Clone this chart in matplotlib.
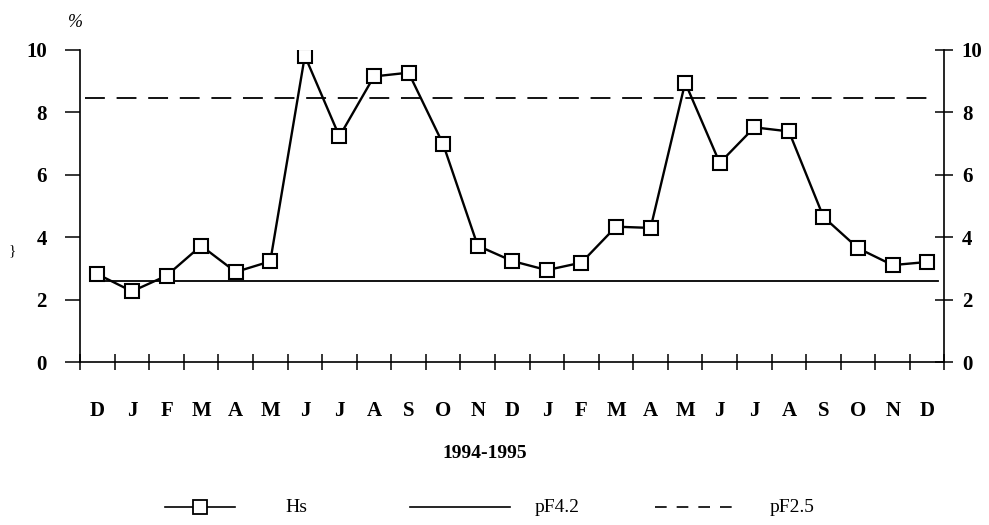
import numpy as np
import matplotlib
matplotlib.use("Agg")
import matplotlib.pyplot as plt
from matplotlib.lines import Line2D

plt.rcParams['font.family'] = ['Liberation Serif', 'DejaVu Serif']

# data
months = ["D", "J", "F", "M", "A", "M", "J", "J", "A", "S", "O", "N",
          "D", "J", "F", "M", "A", "M", "J", "J", "A", "S", "O", "N", "D"]
hs = [2.82, 2.27, 2.77, 3.73, 2.89, 3.23, 9.81, 7.23, 9.15, 9.27, 6.98, 3.73,
      3.24, 2.95, 3.19, 4.34, 4.30, 8.95, 6.38, 7.52, 7.39, 4.65, 3.65, 3.11, 3.21]
pf42 = 2.6
pf25 = 8.45
yticks = [0, 2, 4, 6, 8, 10]

x = np.arange(len(months))

fig = plt.figure(figsize=(9.89, 5.25), dpi=100)
ax = fig.add_axes([0.081, 0.31, 0.874, 0.595])

ax.plot(x, hs, color="black", lw=1.7, marker="s", ms=10,
        mfc="white", mec="black", mew=1.5, zorder=3)
ax.plot([x[0] - 0.2, x[-1] + 0.3], [pf42, pf42], color="black", lw=1.3)
ax.plot([x[0] - 0.35, x[-1] + 0.3], [pf25, pf25], color="black", lw=1.3,
        dashes=(11, 6.5))

ax.set_xlim(-0.5, len(months) - 0.5)
ax.set_ylim(0, 10)
for s in ["top", "right"]:
    ax.spines[s].set_visible(False)
ax.spines["left"].set_linewidth(1.2)
ax.spines["bottom"].set_linewidth(1.2)

# boundaries get tick marks, centers get month labels
ax.set_xticks(np.arange(len(months) + 1) - 0.5)
ax.set_xticklabels([])
ax.tick_params(axis="x", which="major", direction="inout", length=11, width=1.1)
ax.set_xticks(x, months, minor=True)
ax.tick_params(axis="x", which="minor", length=0, pad=28)
for lb in ax.get_xticklabels(minor=True):
    lb.set_fontsize(15)
    lb.set_fontweight("bold")

ax.set_yticks(yticks)
ax.tick_params(axis="y", direction="out", length=11, width=1.1, pad=13)
for lb in ax.get_yticklabels():
    lb.set_fontsize(15)
    lb.set_fontweight("bold")

ax2 = ax.twinx()
ax2.set_ylim(0, 10)
ax2.set_yticks(yticks)
for s in ["top", "left", "bottom"]:
    ax2.spines[s].set_visible(False)
ax2.spines["right"].set_linewidth(1.2)
ax2.tick_params(axis="y", direction="inout", length=13, width=1.1, pad=6)
for lb in ax2.get_yticklabels():
    lb.set_fontsize(15)
    lb.set_fontweight("bold")

fig.text(0.076, 0.958, "%", fontsize=13, style="italic", ha="center", va="center")
fig.text(0.012, 0.523, "}", fontsize=11, ha="center", va="center")
fig.text(0.49, 0.137, "1994-1995", fontsize=14, fontweight="bold",
         ha="center", va="center")

# legend, drawn by hand so each key keeps its own length
W, H = 989, 525
ly = 1 - 507 / H
fig.add_artist(Line2D([165 / W, 235 / W], [ly, ly], color="black", lw=1.2))
fig.add_artist(Line2D([200 / W], [ly], marker="s", ms=10, mfc="white",
                      mec="black", mew=1.3))
fig.add_artist(Line2D([410 / W, 510 / W], [ly, ly], color="black", lw=1.2))
fig.add_artist(Line2D([655 / W, 732 / W], [ly, ly], color="black", lw=1.2,
                      dashes=(7, 6)))
for tx, lab in [(285, "Hs"), (535, "pF4.2"), (770, "pF2.5")]:
    fig.text(tx / W, ly, lab, fontsize=14, ha="left", va="center")

plt.savefig("out.png", dpi=100)
